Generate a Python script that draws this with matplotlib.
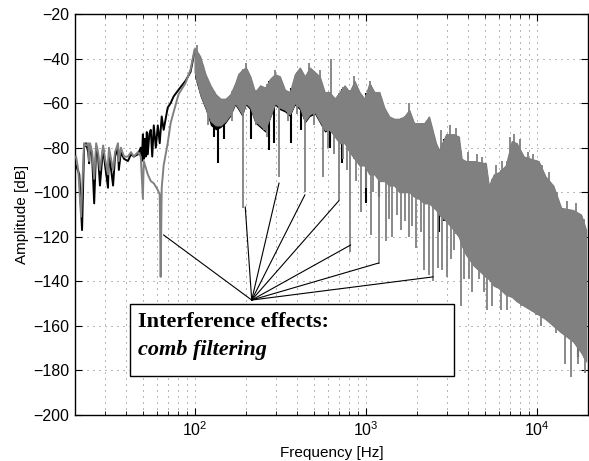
import numpy as np
import matplotlib
matplotlib.use("Agg")
import matplotlib.pyplot as plt

plt.rcParams['font.family'] = ['Liberation Sans', 'DejaVu Sans']
plt.rcParams['mathtext.default'] = 'regular'

# -----------------------------
# Low-frequency part
# -----------------------------
gray_low_f = [20.3, 20.9, 21.7, 22.6, 23.2, 23.9, 24.2, 24.5, 25.2, 25.9, 26.6, 27.3,
              28.0, 29.2, 30.0, 31.2, 31.6, 33.4, 34.3, 35.7, 36.1, 37.1, 38.7, 40.8,
              42.5, 44.2, 46.6, 48.5, 49.9, 50.5, 53.3, 55.5, 57.8, 61.0, 62.6, 63.4,
              64.3, 66.0, 69.7, 72.5, 75.5, 80.7, 88.6, 94.8, 100.0]
gray_low_db = [-84, -90, -111, -78, -79, -78, -86, -78, -82, -94, -78, -82,
               -90, -79, -85, -92, -80, -90, -82, -78, -86, -80, -84, -84,
               -82, -84, -82, -84, -103, -86, -92, -95, -96, -99, -101, -138,
               -98, -88, -78, -69, -64, -56, -51, -45, -36]

black_low_f = [20.3, 21.2, 22.0, 22.6, 23.2, 23.9, 24.2, 24.5, 25.2, 25.9, 26.6, 27.3,
               28.0, 29.2, 30.0, 31.2, 31.6, 33.4, 34.3, 35.7, 36.1, 37.1, 38.7, 40.8,
               42.5, 44.2, 46.6, 48.5, 49.2, 49.9, 50.5, 51.2, 51.9, 52.6, 53.3, 54.4,
               55.5, 56.6, 57.8, 59.4, 61.0, 62.6, 64.3, 66.0, 69.7, 72.5, 75.5, 80.7,
               88.6, 94.8, 100.0]
black_low_db = [-88, -92, -117, -80, -78, -82, -87, -79, -84, -105, -80, -84,
                -97, -80, -88, -98, -82, -97, -84, -80, -90, -82, -85, -86,
                -83, -84, -83, -80, -86, -74, -85, -76, -84, -73, -83, -74,
                -72, -84, -70, -80, -70, -78, -66, -72, -62, -60, -57, -54,
                -50, -46, -37]

# -----------------------------
# Dense part: envelopes of the spectra from 100 Hz up
# -----------------------------
band_f = [100, 108, 116, 124, 133, 142, 152, 162, 173, 180, 190, 200, 212, 226,
          242, 259, 277, 296, 316, 338, 361, 386, 413, 442, 472, 505, 540, 577,
          617, 660, 706, 754, 807, 862, 922, 986, 1054, 1127, 1205, 1289, 1378,
          1473, 1575, 1684, 1801, 1925, 2058, 2201, 2353, 2585, 2688, 2958, 3283,
          3510, 3653, 3862, 4295, 5055, 5261, 5625, 6014, 6607, 7164, 7667, 8433,
          10280, 11300, 12540, 13940, 16370, 18230, 19520]
gray_hi = [-35, -39, -47, -52, -56, -58, -58, -56, -51, -47, -45, -44, -48, -55,
           -52, -53, -49, -47, -48, -54, -55, -47, -44, -48, -44, -46, -48, -55,
           -55, -58, -55, -52, -55, -50, -55, -58, -51, -55, -55, -62, -66,
           -67, -67, -66, -63, -69, -69, -69, -66, -78, -81, -74, -74,
           -75, -85, -86, -86, -87, -97, -92, -91, -88, -77, -78, -84,
           -86, -93, -97, -107, -108, -110, -117]
gray_lo = [-46, -56, -62, -68, -70, -70, -68, -65, -60, -62, -65, -60, -62, -68,
           -70, -72, -66, -60, -62, -63, -65, -60, -62, -68, -65, -64, -68, -72,
           -72, -75, -78, -78, -82, -85, -88, -88, -92, -92, -95, -95, -97,
           -97, -100, -100, -100, -102, -103, -105, -105, -108, -110, -113, -117,
           -120, -124, -128, -133, -138, -139, -142, -143, -146, -147, -149, -151,
           -155, -157, -160, -163, -167, -172, -176]
black_lo = [-48, -57, -63, -70, -72, -71, -69, -66, -61, -63, -66, -61, -63, -69,
            -71, -73, -67, -61, -63, -64, -66, -61, -63, -69, -66, -65, -69, -73,
            -72, -75, -78, -78, -82, -85, -88, -88, -92, -92, -95, -95, -97,
            -97, -100, -100, -100, -102, -103, -105, -105, -108, -110, -113, -117,
            -120, -124, -128, -133, -138, -139, -142, -143, -146, -147, -149, -151,
            -155, -157, -160, -163, -167, -172, -176]

# comb-filter notches (frequency, depth)
gray_notch_f = [120, 165, 192, 230, 255, 265, 312, 350, 395, 442, 500, 563, 600,
                650, 700, 740, 780, 815, 880, 940, 1000, 1070, 1110, 1205, 1325,
                1380, 1430, 1520, 1620, 1700, 1800, 1880, 1980, 2100, 2200, 2350,
                2480, 2650, 2800, 2990, 3150, 3280, 3600, 3760, 4020, 4190, 4610,
                4930, 5130, 5480, 5860, 6180, 6700, 7070, 7570, 8090, 9250, 9880,
                10690, 12920, 14740, 15860, 17500, 19200]
gray_notch_db = [-70, -68, -107, -70, -72, -75, -93, -68, -65, -100, -70, -93, -80,
                 -83, -104, -85, -90, -127, -95, -109, -98, -119, -100, -132, -122,
                 -112, -120, -110, -117, -113, -120, -115, -125, -118, -135, -137,
                 -140, -134, -135, -138, -130, -126, -151, -139, -139, -145, -139,
                 -145, -153, -151, -142, -153, -153, -147, -145, -151, -147, -155,
                 -160, -163, -177, -183, -177, -181]
# small peaks sticking out of the top of the dense part
gray_peak_f = [104, 200, 296, 470, 540, 630, 860, 1060, 1800, 2750, 3100, 3400,
               3950, 4500, 4800, 5800, 6300, 7000, 7400, 8000, 8900, 9600, 10800,
               11800, 13200, 15000, 17000, 19000]
gray_peak_db = [-34, -42, -45, -42, -45, -40, -48, -50, -60, -72, -70, -71,
                -82, -83, -84, -88, -86, -75, -74, -76, -82, -83, -88,
                -91, -100, -104, -105, -112]

black_notch_f = [112, 130, 138, 148, 215, 245, 273, 290, 367, 420, 620, 730,
                 1010, 1200, 2690, 2870, 3510, 4020, 17400]
black_notch_db = [-58, -75, -87, -76, -76, -70, -81, -78, -78, -72, -80, -87,
                  -105, -102, -118, -113, -114, -114, -174]

# annotation: lines from a common point to the notches
hub = (216, -148.4)
arrow_f = [66, 198, 312, 442, 697, 818, 1190, 2485]
arrow_db = [-119.2, -106.6, -95.9, -101.2, -103.9, -123.7, -131.8, -138.0]

GRAY = '#808080'

fig = plt.figure(figsize=(5.89, 4.61), dpi=100, facecolor='white')
ax = fig.add_axes([0.1273, 0.0998, 0.871, 0.8698])
ax.set_xscale('log')

log_band = np.log10(band_f)

# black spectrum (behind)
ax.plot(black_low_f, black_low_db, color='black', lw=1.4, zorder=2)
ax.fill_between(band_f, black_lo, gray_hi, color='black', lw=0, zorder=2)
ax.vlines(black_notch_f, black_notch_db,
          np.interp(np.log10(black_notch_f), log_band, gray_hi),
          color='black', lw=1.5, zorder=2)

# gray spectrum (front)
ax.plot(gray_low_f, gray_low_db, color=GRAY, lw=1.4, zorder=3)
ax.fill_between(band_f, gray_lo, gray_hi, color=GRAY, lw=0.8, edgecolor=GRAY, zorder=3)
ax.vlines(gray_notch_f, gray_notch_db,
          np.interp(np.log10(gray_notch_f), log_band, gray_hi),
          color=GRAY, lw=1.3, zorder=3)
ax.vlines(gray_peak_f, np.interp(np.log10(gray_peak_f), log_band, gray_lo),
          gray_peak_db, color=GRAY, lw=1.3, zorder=3)

# annotation lines
for f, db in zip(arrow_f, arrow_db):
    ax.plot([hub[0], f], [hub[1], db], color='black', lw=0.8, zorder=4)

# text box
box = plt.Rectangle((41.9, -182.5), 3292 - 41.9, 32.2, facecolor='white',
                    edgecolor='black', lw=1.0, zorder=5)
ax.add_patch(box)
ax.text(46.6, -160.5, 'Interference effects:', family='Liberation Serif',
        fontweight='bold', fontsize=16, va='baseline', zorder=6)
ax.text(46.6, -173.2, 'comb filtering', family='Liberation Serif',
        fontweight='bold', style='italic', fontsize=16, va='baseline', zorder=6)

ax.set_xlim(20, 20000)
ax.set_ylim(-200, -20)
ax.set_yticks(np.arange(-200, -19, 20))

grid_kw = dict(color='0.35', linestyle=(0, (1.2, 6)), linewidth=0.6)
ax.grid(True, which='major', **grid_kw)
ax.xaxis.grid(True, which='minor', **grid_kw)
ax.set_axisbelow(True)

ax.tick_params(which='both', direction='in', top=True, right=True, labelsize=11.5)
ax.tick_params(which='major', length=5, pad=4)
ax.tick_params(which='minor', length=3)
for s in ax.spines.values():
    s.set_linewidth(1.0)

ax.set_xlabel('Frequency [Hz]', fontsize=11, labelpad=5)
ax.set_ylabel('Amplitude [dB]', fontsize=11, labelpad=3)

fig.savefig('out.png', dpi=100)
